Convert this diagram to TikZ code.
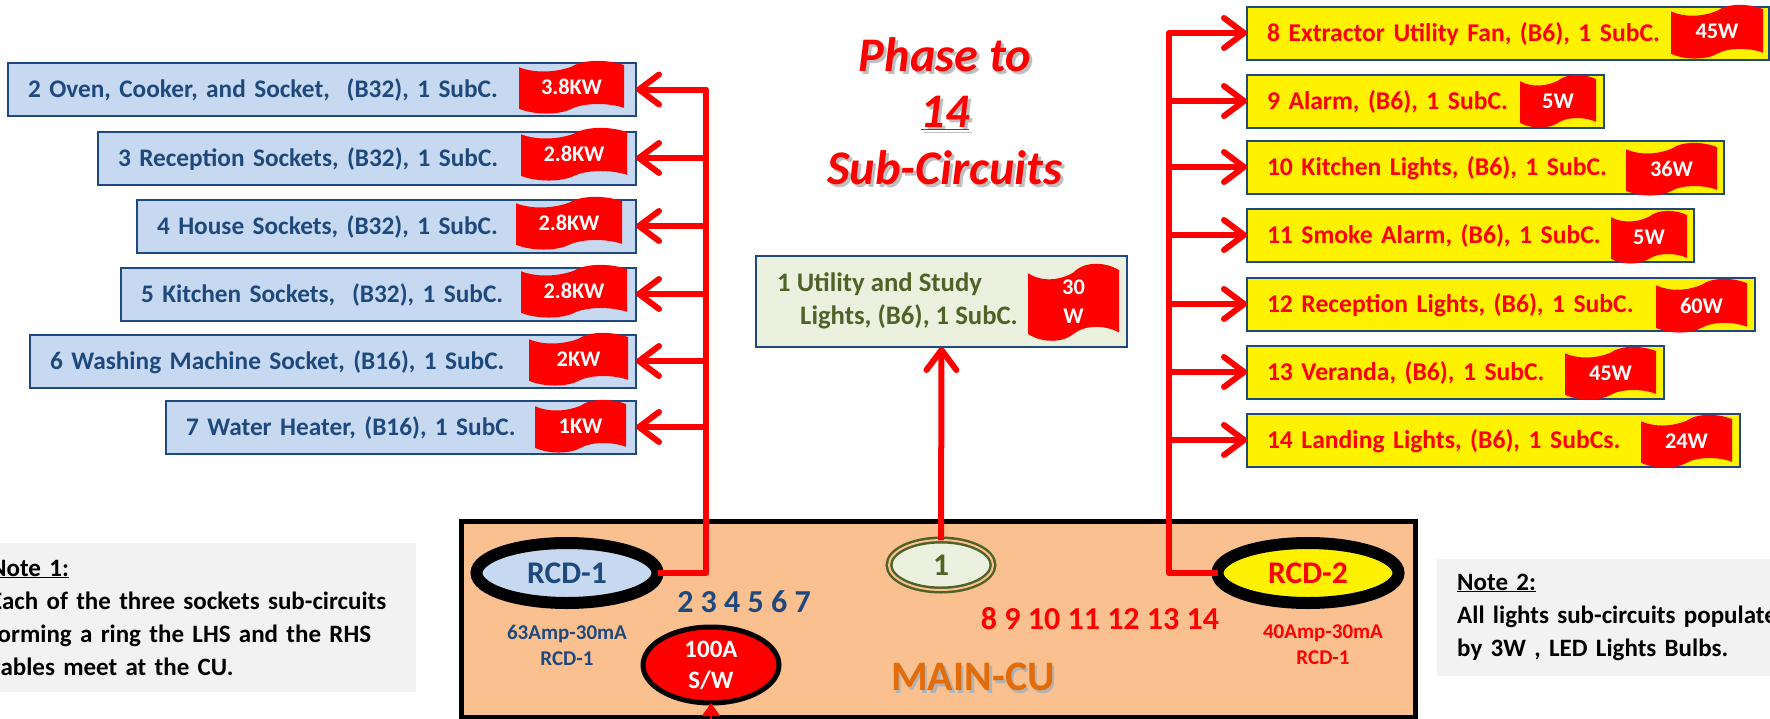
\documentclass[tikz,border=0pt]{standalone}
\usepackage{fontspec}
\setmainfont{Carlito}
\usetikzlibrary{arrows.meta,shapes.geometric}
\definecolor{navy}{HTML}{1F497D}
\definecolor{paleblue}{HTML}{C6D9F1}
\definecolor{palegreen}{HTML}{EBF1DE}
\definecolor{olive}{HTML}{4F6228}
\definecolor{cupeach}{HTML}{FAC090}
\definecolor{cuorange}{HTML}{E36C0A}
\definecolor{notegray}{HTML}{F2F2F2}
\tikzset{
	blocksize/.style={font=\bfseries\fontsize{#1}{#1}\selectfont},
	subbox/.style={draw=navy, line width=2pt, inner xsep=20pt, inner ysep=0pt, outer sep=0pt, minimum height=53pt, align=left},
	bluebox/.style={subbox, fill=paleblue, text=navy, anchor=east, text height=19pt, text depth=3pt, blocksize=25.3},
	yellowbox/.style={subbox, fill=yellow, text=red, anchor=west, text height=19pt, text depth=3pt, blocksize=25.6},
	flaglabel/.style={text=white, align=center, inner sep=0pt, font=\bfseries\fontsize{22.4}{29}\selectfont},
	feed/.style={draw=red, line width=6pt, -{Straight Barb[length=20pt,width=30pt,round]}},
	rcd/.style={ellipse, draw=black, line width=12pt, outer sep=0pt, minimum width=181pt, minimum height=60pt, inner sep=0pt, blocksize=31.5},
	notebox/.style={fill=notegray, inner xsep=20pt, inner ysep=0pt, minimum height=149pt, align=left, font=\bfseries\fontsize{25}{33}\selectfont},
	rating/.style={align=center, font=\bfseries\fontsize{21}{26}\selectfont},
}
\def\waveflag(#1)(#2,#3)(#4,#5)#6{
	\begin{scope}[shift={(#2,#3)}, x=#4pt, y=-#5pt]
		\fill[red] (0,.12) .. controls (.15,.24) and (.35,.22) .. (.5,.11) .. controls (.62,-.04) and (.85,-.03) .. (1,.08) -- (1,.9) .. controls (.85,.8) and (.62,.8) .. (.5,.92) .. controls (.38,1.04) and (.15,1.04) .. (0,.92) -- cycle;
		\node[flaglabel] (#1) at (.5,.5) {#6};
	\end{scope}
}

\begin{document}
\begin{tikzpicture}[x=1pt, y=-1pt]
		\clip (0,0) rectangle (1770,718);
		
		%%%%% NOTES %%%%%
		
		\node[notebox, anchor=west, text width=406pt] (note1) at (-30,617.5) {\underline{Note 1:}\\Each of the three sockets sub-circuits\\forming a ring the LHS and the RHS\\cables meet at the CU.};
		\node[notebox, anchor=west, minimum height=117pt, text width=350pt] (note2) at (1437,617) {\underline{Note 2:}\\All lights sub-circuits populated\\by 3W , LED Lights Bulbs.};
		
		%%%%% TITLE %%%%%
		
		\node[text=black!25, align=center, font=\bfseries\itshape\fontsize{48.3}{56.5}\selectfont] (titleshadow) at (948,114) {Phase to\\\underline{14}\\Sub-Circuits};
		\node[text=red, align=center, font=\bfseries\itshape\fontsize{48.3}{56.5}\selectfont] (title) at (945,111) {Phase to\\\underline{14}\\Sub-Circuits};
		
		%%%%% MAIN-CU %%%%%
		
		\node[draw=black, fill=cupeach, line width=5pt, minimum width=954pt, minimum height=196pt, inner sep=0pt] (cu) at (938,619) {};
		
		\node[rcd, fill=paleblue, text=navy] (rcd1) at (567,573) {RCD-1};
		\node[rcd, fill=yellow, text=red] (rcd2) at (1308,573) {RCD-2};
		\node[ellipse, draw=olive, fill=palegreen, line width=2.5pt, double=cupeach, double distance=2pt, outer sep=0pt, minimum width=104pt, minimum height=50pt, inner sep=0pt, text=olive, blocksize=31.5] (way1) at (941,565) {1};
		\node[ellipse, draw=black, fill=red, line width=5pt, outer sep=0pt, minimum width=136pt, minimum height=76pt, inner sep=0pt, text=white, align=center, font=\bfseries\fontsize{25}{31}\selectfont] (mainsw) at (711,665) {100A\\S/W};
		
		\node[text=navy, blocksize=32] (waysl) at (744,602) {2 3 4 5 6 7};
		\node[text=red, blocksize=32] (waysr) at (1100,619) {8 9 10 11 12 13 14};
		\node[text=navy, rating] (rating1) at (567,645) {63Amp-30mA\\RCD-1};
		\node[text=red, rating] (rating2) at (1323,645) {40Amp-30mA\\RCD-1};
		\node[text=black!30, blocksize=42] (cunameshadow) at (975.5,679.5) {MAIN-CU};
		\node[text=cuorange, blocksize=42] (cuname) at (973,677) {MAIN-CU};
		
		%%%%% LEFT %%%%%
		
		\node[bluebox, text width=588pt] (c2) at (636,89.5) {2 Oven, Cooker, and Socket,\ \ (B32), 1 SubC.};
		\node[bluebox, text width=498pt] (c3) at (636,158) {3 Reception Sockets, (B32), 1 SubC.};
		\node[bluebox, text width=459pt] (c4) at (636,226) {4 House Sockets, (B32), 1 SubC.};
		\node[bluebox, text width=475pt] (c5) at (636,294) {5 Kitchen Sockets,\ \ (B32), 1 SubC.};
		\node[bluebox, text width=566pt] (c6) at (636,361) {6 Washing Machine Socket, (B16), 1 SubC.};
		\node[bluebox, text width=430pt] (c7) at (636,427) {7 Water Heater, (B16), 1 SubC.};
		
		\waveflag(w2)(519,61)(105,52){3.8KW}
		\waveflag(w3)(521,128)(106,52){2.8KW}
		\waveflag(w4)(516,197)(106,52){2.8KW}
		\waveflag(w5)(521,265)(106,52){2.8KW}
		\waveflag(w6)(529,333)(99,52){2KW}
		\waveflag(w7)(535,400)(91,52){1KW}
		
		\coordinate (jl0) at (706,573);
		\coordinate (jl2) at (706,89.5);
		\coordinate (jl3) at (706,158);
		\coordinate (jl4) at (706,226);
		\coordinate (jl5) at (706,294);
		\coordinate (jl6) at (706,361);
		\coordinate (jl7) at (706,427);
		
		\draw[feed, line join=round] (rcd1.east) -- (jl0) -- (jl2) -- (c2.east);
		\draw[feed] (jl3) -- (c3.east);
		\draw[feed] (jl4) -- (c4.east);
		\draw[feed] (jl5) -- (c5.east);
		\draw[feed] (jl6) -- (c6.east);
		\draw[feed] (jl7) -- (c7.east);
		
		%%%%% MIDDLE %%%%%
		
		\node[subbox, fill=palegreen, text=olive, minimum width=371pt, minimum height=91pt, inner sep=0pt] (c1) at (941.5,301.5) {};
		\node[anchor=west, text=olive, align=left, inner sep=0pt, font=\bfseries\fontsize{26.7}{33}\selectfont] (c1text) at (777,301) {1 Utility and Study\\\hspace*{23pt}Lights, (B6), 1 SubC.};
		\waveflag(w1)(1028,264)(91,76){30\\W}
		\draw[feed] (way1.north) -- (c1.south);
		
		%%%%% RIGHT %%%%%
		
		\node[yellowbox, text width=482pt] (c8) at (1247,33) {8 Extractor Utility Fan, (B6), 1 SubC.};
		\node[yellowbox, text width=316.5pt] (c9) at (1247,101) {9 Alarm, (B6), 1 SubC.};
		\node[yellowbox, text width=437pt] (c10) at (1247,167) {10 Kitchen Lights, (B6), 1 SubC.};
		\node[yellowbox, text width=407pt] (c11) at (1247,235) {11 Smoke Alarm, (B6), 1 SubC.};
		\node[yellowbox, text width=468pt] (c12) at (1247,304) {12 Reception Lights, (B6), 1 SubC.};
		\node[yellowbox, text width=377pt] (c13) at (1247,372) {13 Veranda, (B6), 1 SubC.};
		\node[yellowbox, text width=453pt] (c14) at (1247,440) {14 Landing Lights, (B6), 1 SubCs.};
		
		\waveflag(w8)(1671,5)(92,53){45W}
		\waveflag(w9)(1520,75)(76,52){5W}
		\waveflag(w10)(1626,143)(91,52){36W}
		\waveflag(w11)(1611,211)(76,52){5W}
		\waveflag(w12)(1656,279)(91,53){60W}
		\waveflag(w13)(1565,347)(91,52){45W}
		\waveflag(w14)(1641,415)(91,52){24W}
		
		\coordinate (jr0) at (1169,573);
		\coordinate (jr8) at (1169,33);
		\coordinate (jr9) at (1169,101);
		\coordinate (jr10) at (1169,167);
		\coordinate (jr11) at (1169,235);
		\coordinate (jr12) at (1169,304);
		\coordinate (jr13) at (1169,372);
		\coordinate (jr14) at (1169,440);
		
		\draw[feed, line join=round] (rcd2.west) -- (jr0) -- (jr8) -- (c8.west);
		\draw[feed] (jr9) -- (c9.west);
		\draw[feed] (jr10) -- (c10.west);
		\draw[feed] (jr11) -- (c11.west);
		\draw[feed] (jr12) -- (c12.west);
		\draw[feed] (jr13) -- (c13.west);
		\draw[feed] (jr14) -- (c14.west);
		
		%%%%% SUPPLY %%%%%
		
		\coordinate (supply) at (711,722);
		\draw[draw=red, line width=2pt, -{Triangle[length=13pt,width=18pt]}] (supply) -- (mainsw.south);
\end{tikzpicture}
\end{document}
